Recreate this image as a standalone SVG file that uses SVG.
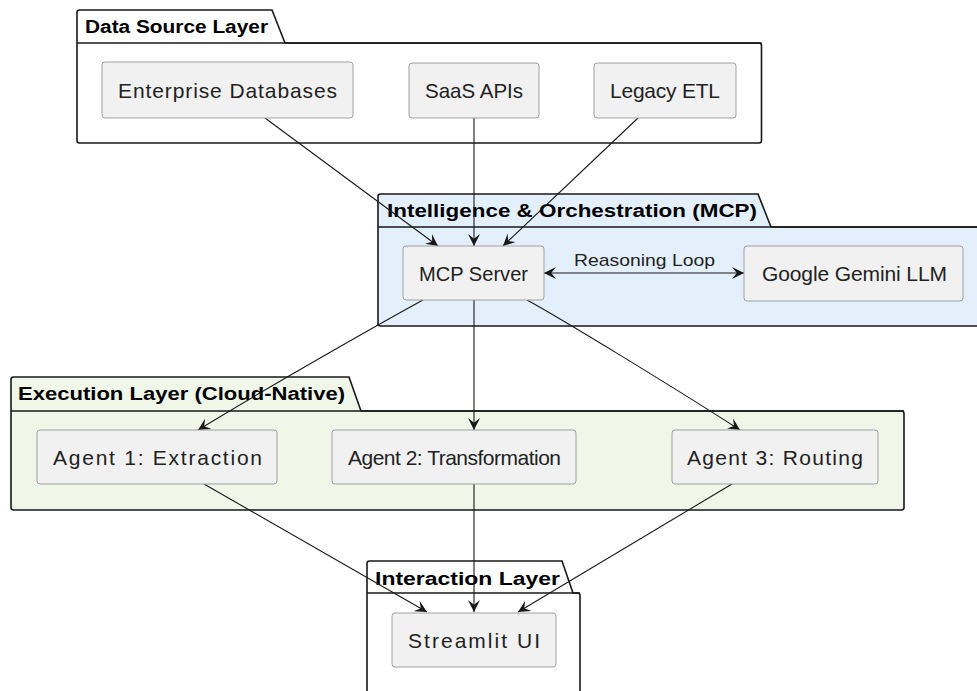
<svg xmlns="http://www.w3.org/2000/svg" width="977" height="691" viewBox="0 0 977 691">
<defs>
<style>
.pkg{stroke:#181818;stroke-width:1.6;}
.sep{stroke:#181818;stroke-width:1.6;fill:none;}
.ttl{font-family:"Liberation Sans",Arial,sans-serif;font-weight:bold;font-size:18px;fill:#000;}
.box{fill:#F1F1F1;stroke:#A0A0A0;stroke-width:1;}
.lbl{font-family:"Liberation Sans",Arial,sans-serif;font-size:21px;fill:#222;}
.elbl{font-family:"Liberation Sans",Arial,sans-serif;font-size:17px;fill:#222;}
.edge{fill:none;stroke:#181818;stroke-width:1.1;marker-end:url(#ah);}
</style>
<marker id="ah" viewBox="0 0 10 10" refX="10" refY="5" markerWidth="12" markerHeight="12" markerUnits="userSpaceOnUse" orient="auto-start-reverse">
<path d="M0,0 L10,5 L0,10 L4,5 Z" fill="#181818"/>
</marker>
</defs>
<rect width="977" height="691" fill="#FFFFFF"/>

<g id="pkg-datasource">
<path class="pkg" fill="#FFFFFF" d="M77,43 L77,12.5 Q77,10 79.5,10 L272,10 L285,43 L759,43 Q761.5,43 761.5,45.5 L761.5,140.5 Q761.5,143 759,143 L79.5,143 Q77,143 77,140.5 Z"/>
<line class="sep" x1="77" y1="43" x2="761.5" y2="43"/>
<text class="ttl" x="85" y="33" textLength="183" lengthAdjust="spacingAndGlyphs">Data Source Layer</text>
</g>
<g id="pkg-intelligence">
<path class="pkg" fill="#E3F0FC" d="M378,227 L378,196.5 Q378,194 380.5,194 L758,194 L771,227 L990,227 L990,326 L380.5,326 Q378,326 378,323.5 Z"/>
<line class="sep" x1="378" y1="227" x2="990" y2="227"/>
<text class="ttl" x="387" y="217" textLength="370" lengthAdjust="spacingAndGlyphs">Intelligence &amp; Orchestration (MCP)</text>
</g>
<g id="pkg-execution">
<path class="pkg" fill="#F0F6E8" d="M11,411 L11,379.5 Q11,377 13.5,377 L349,377 L361,411 L901.5,411 Q904,411 904,413.5 L904,507.5 Q904,510 901.5,510 L13.5,510 Q11,510 11,507.5 Z"/>
<line class="sep" x1="11" y1="411" x2="904" y2="411"/>
<text class="ttl" x="18" y="400" textLength="327" lengthAdjust="spacingAndGlyphs">Execution Layer (Cloud-Native)</text>
</g>
<g id="pkg-interaction">
<path class="pkg" fill="#FFFFFF" d="M367,593 L367,563.5 Q367,561 369.5,561 L562,561 L573,593 L577.5,593 Q580,593 580,595.5 L580,700 L367,700 Z"/>
<line class="sep" x1="367" y1="593" x2="580" y2="593"/>
<text class="ttl" x="375" y="585" textLength="185" lengthAdjust="spacingAndGlyphs">Interaction Layer</text>
</g>

<g id="connectors">
<path class="edge" d="M265,118 L438,246"/>
<path class="edge" d="M474,118 L474,246"/>
<path class="edge" d="M638,118 L503,246"/>
<path class="edge" d="M423,300 C390,318 280,380 198,430"/>
<path class="edge" d="M474,300 L474,430"/>
<path class="edge" d="M527,300 C560,318 670,385 740,430"/>
<path class="edge" d="M204,484 L427,612"/>
<path class="edge" d="M474,484 L474,612"/>
<path class="edge" d="M732,484 L518,612"/>
<path class="edge" style="marker-start:url(#ah)" d="M544,273 L744,273"/>
<text class="elbl" x="574" y="266" textLength="141" lengthAdjust="spacingAndGlyphs">Reasoning Loop</text>
</g>

<g id="n-enterprise">
<rect class="box" x="102" y="62" width="251" height="56" rx="3"/>
<text class="lbl" x="118" y="98" textLength="219" lengthAdjust="spacing">Enterprise Databases</text>
</g>
<g id="n-saas">
<rect class="box" x="409" y="63" width="130" height="55" rx="3"/>
<text class="lbl" x="425" y="98" textLength="98" lengthAdjust="spacingAndGlyphs">SaaS APIs</text>
</g>
<g id="n-legacy">
<rect class="box" x="594" y="63" width="142" height="55" rx="3"/>
<text class="lbl" x="610" y="98" textLength="110" lengthAdjust="spacing">Legacy ETL</text>
</g>
<g id="n-mcp">
<rect class="box" x="403" y="246" width="141" height="54" rx="3"/>
<text class="lbl" x="419" y="281" textLength="109" lengthAdjust="spacingAndGlyphs">MCP Server</text>
</g>
<g id="n-gemini">
<rect class="box" x="744" y="246" width="219" height="55" rx="3"/>
<text class="lbl" x="762" y="281" textLength="185" lengthAdjust="spacing">Google Gemini LLM</text>
</g>
<g id="n-agent1">
<rect class="box" x="37" y="430" width="240" height="54" rx="3"/>
<text class="lbl" x="53" y="465" textLength="209" lengthAdjust="spacing">Agent 1: Extraction</text>
</g>
<g id="n-agent2">
<rect class="box" x="332" y="430" width="244" height="54" rx="3"/>
<text class="lbl" x="348" y="465" textLength="213" lengthAdjust="spacing">Agent 2: Transformation</text>
</g>
<g id="n-agent3">
<rect class="box" x="672" y="430" width="206" height="54" rx="3"/>
<text class="lbl" x="687" y="465" textLength="176" lengthAdjust="spacing">Agent 3: Routing</text>
</g>
<g id="n-streamlit">
<rect class="box" x="392" y="613" width="164" height="54" rx="3"/>
<text class="lbl" x="408" y="648" textLength="132" lengthAdjust="spacing">Streamlit UI</text>
</g>
</svg>
